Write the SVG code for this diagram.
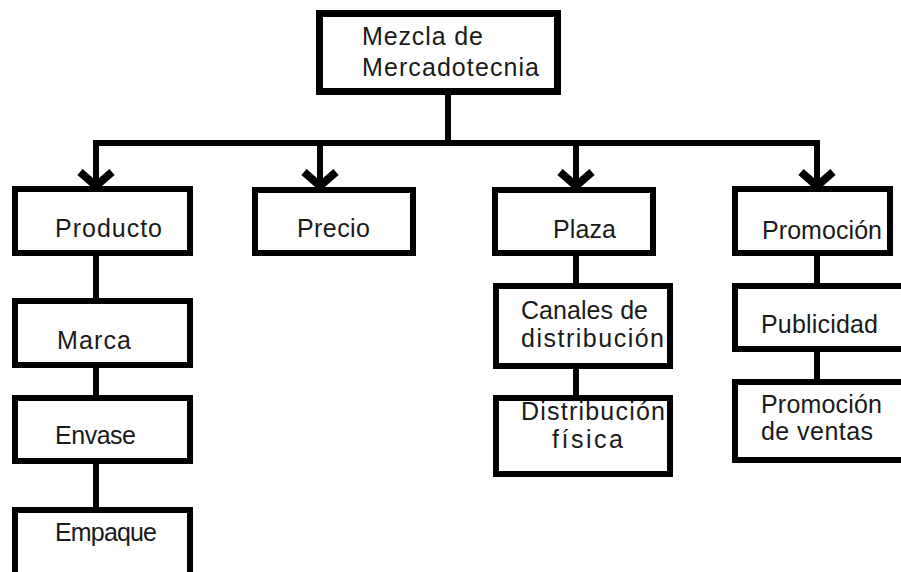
<svg xmlns="http://www.w3.org/2000/svg" width="901" height="572" viewBox="0 0 901 572">
<style>
.box{fill:#fff;stroke:#000;stroke-width:6}
.ln{fill:none;stroke:#000;stroke-width:6}
.ar{fill:none;stroke:#000;stroke-width:8;stroke-linejoin:miter}
text{font-family:"Liberation Sans",Arial,sans-serif;font-size:25px;fill:#1a1a1a}
</style>
<rect width="901" height="572" fill="#fff"/>
<g id="connectors">
<path class="ln" d="M448,95 V143"/>
<path class="ln" d="M96,188 V143 H817 V188"/>
<path class="ln" d="M320,143 V188"/>
<path class="ln" d="M576,143 V188"/>
<path class="ar" d="M80,172 L96,186 L112,172"/>
<path class="ar" d="M304,172 L320,186 L336,172"/>
<path class="ar" d="M560,172 L576,186 L592,172"/>
<path class="ar" d="M801,172 L817,186 L833,172"/>
<path class="ln" d="M96,256 V298"/>
<path class="ln" d="M96,368 V395"/>
<path class="ln" d="M96,464 V507"/>
<path class="ln" d="M576,256 V283"/>
<path class="ln" d="M576,369 V395"/>
<path class="ln" d="M817,256 V283"/>
<path class="ln" d="M817,352 V379"/>
</g>
<g id="mezcla"><rect class="box" x="319.5" y="13.5" width="238" height="78" style="stroke-width:7"/>
<text x="362" y="45" textLength="121" lengthAdjust="spacing">Mezcla de</text>
<text x="362" y="76" textLength="177" lengthAdjust="spacing">Mercadotecnia</text></g>
<g id="producto"><rect class="box" x="15" y="189" width="175" height="64"/>
<text x="55" y="237" textLength="107" lengthAdjust="spacing">Producto</text></g>
<g id="precio"><rect class="box" x="255" y="190" width="158" height="63"/>
<text x="297" y="237" textLength="73" lengthAdjust="spacing">Precio</text></g>
<g id="plaza"><rect class="box" x="495" y="190" width="158" height="63"/>
<text x="553" y="238" textLength="63" lengthAdjust="spacing">Plaza</text></g>
<g id="promocion"><rect class="box" x="735" y="189" width="155" height="64"/>
<text x="762" y="239" textLength="120" lengthAdjust="spacing">Promoción</text></g>
<g id="marca"><rect class="box" x="15" y="301" width="175" height="64"/>
<text x="57" y="349" textLength="74" lengthAdjust="spacing">Marca</text></g>
<g id="envase"><rect class="box" x="15" y="398" width="175" height="63"/>
<text x="55" y="444" textLength="81" lengthAdjust="spacing">Envase</text></g>
<g id="empaque"><rect class="box" x="15" y="510" width="175" height="80"/>
<text x="55" y="541" textLength="102" lengthAdjust="spacing">Empaque</text></g>
<g id="canales"><rect class="box" x="496" y="286" width="174" height="80"/>
<text x="521" y="319" textLength="127" lengthAdjust="spacing">Canales de</text>
<text x="521" y="347" textLength="143" lengthAdjust="spacing">distribución</text></g>
<g id="distribucion"><rect class="box" x="496" y="398" width="174" height="76"/>
<text x="521" y="420" textLength="144" lengthAdjust="spacing">Distribución</text>
<text x="552" y="448" textLength="71" lengthAdjust="spacing">física</text></g>
<g id="publicidad"><rect class="box" x="735" y="286" width="180" height="63"/>
<text x="761" y="333" textLength="117" lengthAdjust="spacing">Publicidad</text></g>
<g id="promocion-ventas"><rect class="box" x="735" y="382" width="180" height="78"/>
<text x="761" y="413" textLength="121" lengthAdjust="spacing">Promoción</text>
<text x="761" y="440" textLength="112" lengthAdjust="spacing">de ventas</text></g>
</svg>
